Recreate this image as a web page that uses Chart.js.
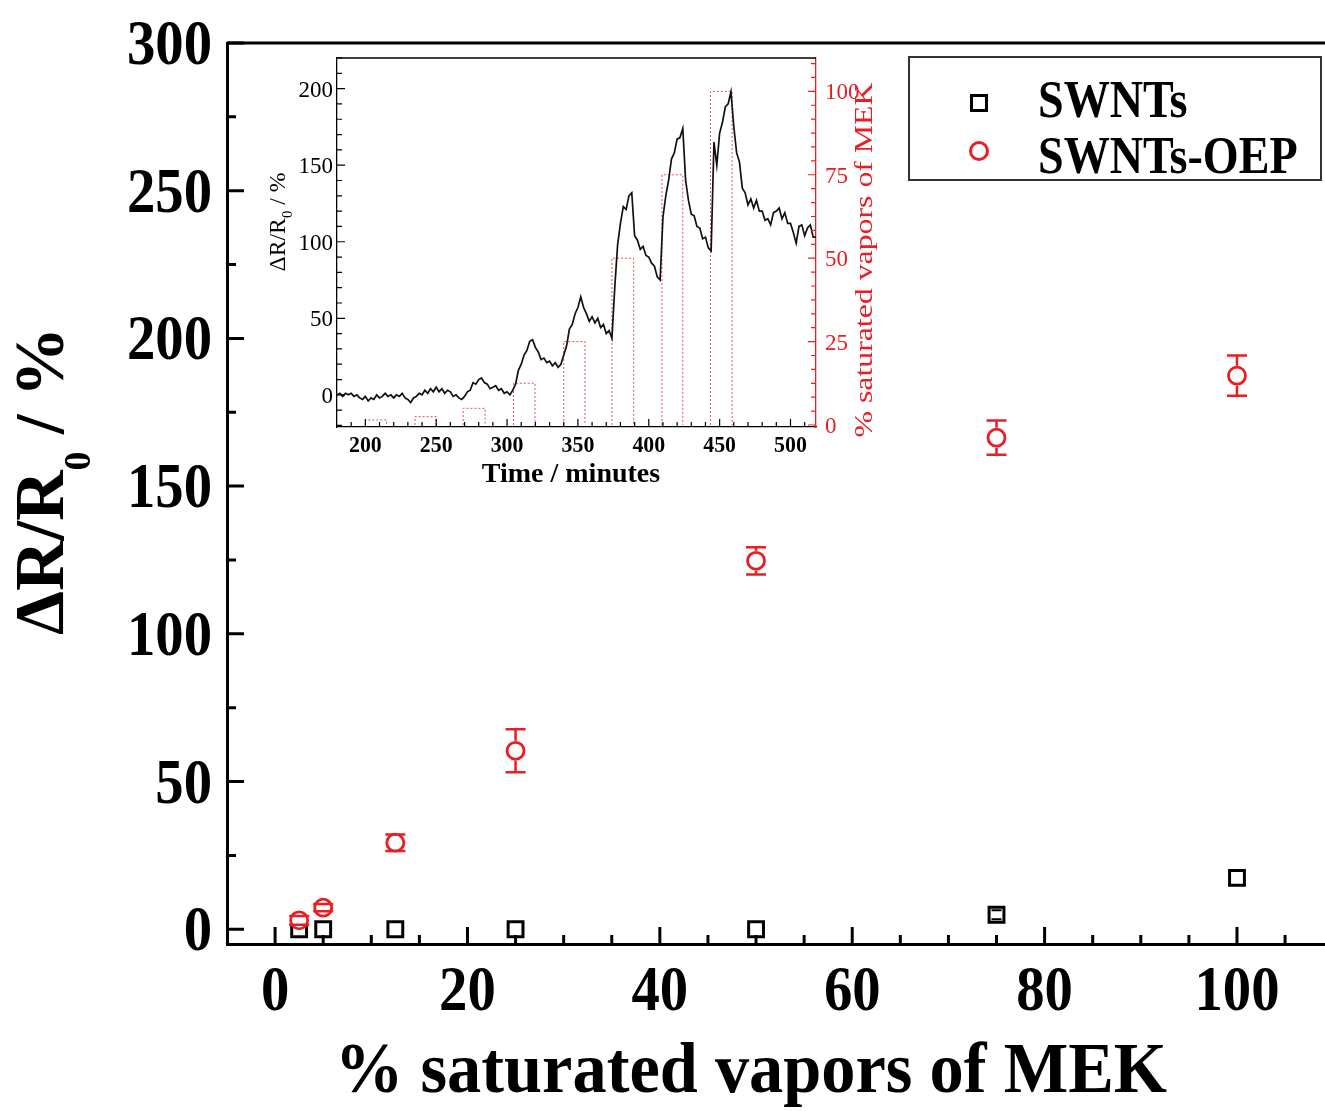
<!DOCTYPE html>
<html>
<head>
<meta charset="utf-8">
<script src="https://cdn.jsdelivr.net/npm/chart.js@4.4.1/dist/chart.umd.min.js"></script>
<style>
body{margin:0;background:#fff}
#wrap{position:relative;width:1325px;height:1111px;overflow:hidden}
#main{position:absolute;left:0;top:0}
#inset{position:absolute;left:250px;top:40px}
</style>
</head>
<body>
<div id="wrap">
<canvas id="main" width="1325" height="1111"></canvas>
<canvas id="inset" width="640" height="470"></canvas>
</div>
<script>
// main plot: response vs % saturated vapour
let vapor = [2.5, 5, 12.5, 25, 50, 75, 100]
let swnt = [0, 0, 0, 0, 0, 4.9, 17.4]
let swntErr = [0, 0, 0, 0, 0, 1.5, 0]
let oep = [3, 7.3, 29.3, 60.4, 124.7, 166.4, 187.4]
let oepErr = [1.5, 1.2, 2.8, 7.3, 4.6, 5.8, 6.8]
let mainXLabels = [0, 20, 40, 60, 80, 100]
let mainYLabels = [0, 50, 100, 150, 200, 250, 300]

// inset: resistance trace over time
let traceTime = [
	180,182,184,186,188,190,192,194,196,198,
	200,202,204,206,208,210,212,214,216,218,
	220,222,224,226,228,230,232,234,236,238,
	240,242,244,246,248,250,252,254,256,258,
	260,262,264,266,268,270,272,274,276,278,
	280,282,284,286,288,290,292,294,296,298,
	300,302,304,306,308,310,312,314,316,318,
	320,322,324,326,328,330,332,334,336,338,
	340,342,344,346,348,350,352,354,356,358,
	360,362,364,366,368,370,372,374,376,378,
	380,382,384,386,388,390,392,394,396,398,
	400,402,404,406,408,410,412,414,416,418,
	420,422,424,426,428,430,432,434,436,438,
	440,442,444,446,448,450,452,454,456,458,
	460,462,464,466,468,470,472,474,476,478,
	480,482,484,486,488,490,492,494,496,498,
	500,502,504,506,508,510,512,514,516,518]
let traceDR = [
	0,1,-1,1,0,1,-1,0,-2,-3,
	-1,-4,-2,-3,0,-2,-1,1,-1,0,
	-2,0,-1,1,-2,-3,-5,-2,-1,1,
	0,3,1,4,2,5,2,4,1,3,
	2,-1,0,-2,-3,-1,2,3,8,7,
	10,11,8,7,4,5,6,3,4,1,
	2,0,3,7,16,20,26,29,35,36,
	31,28,23,24,21,22,19,21,18,20,
	26,32,43,46,53,57,64,57,53,48,
	51,47,50,44,46,40,42,37,70,98,
	112,123,121,130,132,104,101,95,97,91,
	90,86,84,77,75,116,130,140,154,158,
	167,168,174,140,127,118,117,110,109,102,
	103,96,94,165,150,171,178,188,190,198,
	175,158,152,135,132,124,128,122,127,120,
	120,114,115,111,119,120,122,115,119,112,
	112,106,99,110,111,104,109,111,103,103]
let pulseStart = [200, 235, 269, 304.5, 340, 374, 409.3, 443.5]
let pulseEnd = [215, 250, 284.5, 319.7, 355, 389.3, 424, 458.8]
let pulseLevel = [1.5, 2.5, 5, 12.5, 25, 50, 75, 100]
let insetXLabels = [200, 250, 300, 350, 400, 450, 500]
let insetYLabels = [0, 50, 100, 150, 200]
let insetY2Labels = [0, 25, 50, 75, 100]

var mekchart = mekchart||{}
mekchart = (()=>{
	const red = 'rgb(232,30,36)'
	const serif = '"Liberation Serif","Times New Roman",serif'

let init = ()=>{
	drawMain()
	drawInset()
}
let isOn = (list, v)=> list.some(m => Math.abs(m - v) < 1e-6)

let put = (ctx, s, x, y, font, color, align, sx, fitW)=>{
	ctx.save()
	ctx.font = font
	ctx.fillStyle = color
	ctx.textAlign = 'left'
	ctx.textBaseline = 'alphabetic'
	let w0 = ctx.measureText(s).width
	if(fitW){ sx = fitW / w0 }
	let w = w0 * sx
	let x0 = align==='center' ? x - w/2 : (align==='right' ? x - w : x)
	ctx.translate(x0, y)
	ctx.scale(sx, 1)
	ctx.fillText(s, 0, 0)
	ctx.restore()
}
// rotated (bottom-to-top) title made of pieces, for the R0 subscript
let upTitle = (ctx, parts, x, y, color, len)=>{
	ctx.save()
	ctx.fillStyle = color
	ctx.textBaseline = 'alphabetic'
	let ws = parts.map(p => { ctx.font = p.font; return ctx.measureText(p.s).width })
	let total = ws.reduce((a,b)=>a+b, 0)
	ctx.translate(x, y)
	ctx.rotate(-Math.PI/2)
	ctx.scale(len ? len/total : 1, 1)
	let u = -total/2
	parts.forEach((p,i)=>{
		ctx.font = p.font
		ctx.fillText(p.s, u, p.dy||0)
		u += ws[i]
	})
	ctx.restore()
}
let inTicks = (ctx, scale, area, side, major, big, small, color, lw)=>{
	ctx.save()
	ctx.strokeStyle = color
	ctx.lineWidth = lw
	ctx.beginPath()
	scale.ticks.forEach(t=>{
		if(t.value < scale.min || t.value > scale.max) return
		let p = scale.getPixelForValue(t.value)
		let n = isOn(major, t.value) ? big : small
		if(side==='bottom'){
			if(p < area.left + 2 || p > area.right - 2) return
			ctx.moveTo(p, area.bottom); ctx.lineTo(p, area.bottom - n)
		}else if(side==='left'){
			ctx.moveTo(area.left, p); ctx.lineTo(area.left + n, p)
		}else{
			ctx.moveTo(area.right, p); ctx.lineTo(area.right - n, p)
		}
	})
	ctx.stroke()
	ctx.restore()
}
let errBars = (ctx, xs, ys, es, xs_, ys_, gap, cap, color, lw)=>{
	ctx.save()
	ctx.strokeStyle = color
	ctx.lineWidth = lw
	ctx.beginPath()
	xs.forEach((v,i)=>{
		if(!es[i]) return
		let px = xs_.getPixelForValue(v)
		let py = ys_.getPixelForValue(ys[i])
		let top = ys_.getPixelForValue(ys[i] + es[i])
		let bot = ys_.getPixelForValue(ys[i] - es[i])
		ctx.moveTo(px - cap, top); ctx.lineTo(px + cap, top)
		ctx.moveTo(px - cap, bot); ctx.lineTo(px + cap, bot)
		if(py - top > gap){
			ctx.moveTo(px, top); ctx.lineTo(px, py - gap)
			ctx.moveTo(px, py + gap); ctx.lineTo(px, bot)
		}
	})
	ctx.stroke()
	ctx.restore()
}

let mainDecor = {
	id:'mainDecor',
	afterDatasetsDraw(c){
		let ctx = c.ctx, sx = c.scales.x, sy = c.scales.y
		errBars(ctx, vapor, swnt, swntErr, sx, sy, 8, 5, '#000', 2)
		errBars(ctx, vapor, oep, oepErr, sx, sy, 10, 10, red, 2.5)
	},
	afterDraw(c){
		let ctx = c.ctx, a = c.chartArea, sx = c.scales.x, sy = c.scales.y
		ctx.save()
		ctx.strokeStyle = '#000'
		ctx.lineWidth = 3
		ctx.beginPath()
		ctx.moveTo(a.left, a.top); ctx.lineTo(a.right, a.top)
		ctx.stroke()
		ctx.restore()
		inTicks(ctx, sx, a, 'bottom', mainXLabels, 17, 9, '#000', 3)
		inTicks(ctx, sy, a, 'left', mainYLabels, 17, 9, '#000', 3)
		mainXLabels.forEach(v=>{
			put(ctx, String(v), sx.getPixelForValue(v), 1010, 'bold 63px '+serif, '#000', 'center', 0.9)
		})
		mainYLabels.forEach(v=>{
			put(ctx, String(v), 212, sy.getPixelForValue(v) + 21, 'bold 63px '+serif, '#000', 'right', 0.9)
		})
		put(ctx, '% saturated vapors of MEK', 751, 1092, 'bold 71px '+serif, '#000', 'center', 1, 832)
		upTitle(ctx, [
			{s:'\u0394R/R', font:'bold 70px '+serif},
			{s:'0', font:'bold 38px '+serif, dy:27},
			{s:' / %', font:'bold 70px '+serif}
		], 63, 481, '#000', 308)
		// legend box
		ctx.save()
		ctx.strokeStyle = '#333'
		ctx.lineWidth = 2
		ctx.fillStyle = '#fff'
		ctx.fillRect(909, 57, 412, 123)
		ctx.strokeRect(909, 57, 412, 123)
		let ds = c.data.datasets
		ctx.lineWidth = 3
		ctx.strokeStyle = ds[0].borderColor
		ctx.strokeRect(979 - 7.5, 103 - 7.5, 15, 15)
		ctx.strokeStyle = ds[1].borderColor
		ctx.beginPath()
		ctx.arc(979, 151, 8.5, 0, Math.PI*2)
		ctx.stroke()
		ctx.restore()
		put(ctx, ds[0].label, 1038, 117, 'bold 53px '+serif, '#000', 'left', 0.87)
		put(ctx, ds[1].label, 1038, 173, 'bold 53px '+serif, '#000', 'left', 0.87)
	}
}

let drawMain = ()=>{
	new Chart(document.getElementById('main'), {
		type:'scatter',
		data:{datasets:[
			{label:'SWNTs', data:vapor.map((x,i)=>({x:x, y:swnt[i]})),
			 pointStyle:'rect', pointRadius:10.5, borderColor:'#000', backgroundColor:'#fff', borderWidth:3, order:2},
			{label:'SWNTs-OEP', data:vapor.map((x,i)=>({x:x, y:oep[i]})),
			 pointStyle:'circle', pointRadius:8.5, borderColor:red, backgroundColor:'#fff', borderWidth:2.8, order:1}
		]},
		options:{
			responsive:false, animation:false, devicePixelRatio:1,
			layout:{autoPadding:false, padding:{top:43, left:0, right:0, bottom:0}},
			plugins:{legend:{display:false}, tooltip:{enabled:false}},
			scales:{
				x:{type:'linear', min:-5, max:109.15,
				   ticks:{stepSize:5, display:false, includeBounds:false},
				   grid:{display:false}, border:{display:true, color:'#000', width:3},
				   afterFit:s=>{ s.height = 167; s.paddingLeft = 0; s.paddingRight = 0 }},
				y:{type:'linear', min:-5, max:300,
				   ticks:{stepSize:25, display:false, includeBounds:false},
				   grid:{display:false}, border:{display:true, color:'#000', width:3},
				   afterFit:s=>{ s.width = 227; s.paddingTop = 0; s.paddingBottom = 0 }}
			}
		},
		plugins:[mainDecor]
	})
}

let insetDecor = {
	id:'insetDecor',
	afterDraw(c){
		let ctx = c.ctx, a = c.chartArea, sx = c.scales.x, sy = c.scales.y, s2 = c.scales.y2
		ctx.save()
		ctx.strokeStyle = '#000'
		ctx.lineWidth = 1.3
		ctx.beginPath()
		ctx.moveTo(a.left, a.top); ctx.lineTo(a.right, a.top)
		ctx.stroke()
		ctx.restore()
		inTicks(ctx, sx, a, 'bottom', insetXLabels, 8, 5, '#000', 1.2)
		inTicks(ctx, sy, a, 'left', insetYLabels, 8, 5, '#000', 1.2)
		inTicks(ctx, s2, a, 'right', insetY2Labels, 8, 5, red, 1.2)
		insetXLabels.forEach(v=>{
			put(ctx, String(v), sx.getPixelForValue(v), 412, 'bold 23px '+serif, '#000', 'center', 0.95)
		})
		insetYLabels.forEach(v=>{
			put(ctx, String(v), 83, sy.getPixelForValue(v) + 8, '23px '+serif, '#000', 'right', 1)
		})
		insetY2Labels.forEach(v=>{
			put(ctx, String(v), 575, s2.getPixelForValue(v) + 8, '23px '+serif, red, 'left', 1)
		})
		put(ctx, 'Time / minutes', 321, 442, 'bold 28px '+serif, '#000', 'center', 1)
		upTitle(ctx, [
			{s:'\u0394R/R', font:'24px '+serif},
			{s:'0', font:'15px '+serif, dy:7},
			{s:' / %', font:'24px '+serif}
		], 35, 182, '#000', 99)
		upTitle(ctx, [{s:'% saturated vapors of MEK', font:'26px '+serif}], 622, 220, red, 355)
	}
}

let drawInset = ()=>{
	let pulsePts = []
	pulseStart.forEach((t0,i)=>{
		pulsePts.push({x:t0, y:0}, {x:t0, y:pulseLevel[i]}, {x:pulseEnd[i], y:pulseLevel[i]},
			{x:pulseEnd[i], y:0}, {x:pulseEnd[i], y:null})
	})
	new Chart(document.getElementById('inset'), {
		type:'line',
		data:{datasets:[
			{data:traceTime.map((t,i)=>({x:t, y:traceDR[i]})), borderColor:'#111', borderWidth:1.7,
			 pointRadius:0, tension:0, yAxisID:'y'},
			{data:pulsePts, borderColor:'rgba(232,30,36,0.8)', borderWidth:1, borderDash:[2,2],
			 pointRadius:0, tension:0, spanGaps:false, yAxisID:'y2'}
		]},
		options:{
			responsive:false, animation:false, devicePixelRatio:1,
			layout:{autoPadding:false, padding:{top:18, left:0, right:0, bottom:0}},
			plugins:{legend:{display:false}, tooltip:{enabled:false}},
			scales:{
				x:{type:'linear', min:180, max:518,
				   ticks:{stepSize:10, display:false, includeBounds:false},
				   grid:{display:false}, border:{display:true, color:'#000', width:1.3},
				   afterFit:s=>{ s.height = 83; s.paddingLeft = 0; s.paddingRight = 0 }},
				y:{type:'linear', position:'left', min:-21, max:220,
				   ticks:{stepSize:10, display:false, includeBounds:false},
				   grid:{display:false}, border:{display:true, color:'#000', width:1.3},
				   afterFit:s=>{ s.width = 87; s.paddingTop = 0; s.paddingBottom = 0 }},
				y2:{type:'linear', position:'right', min:-0.6, max:110,
				   ticks:{stepSize:25/6, display:false, includeBounds:false},
				   grid:{display:false}, border:{display:true, color:red, width:1.3},
				   afterFit:s=>{ s.width = 74; s.paddingTop = 0; s.paddingBottom = 0 }}
			}
		},
		plugins:[insetDecor]
	})
}
return {init:init}
})();
mekchart.init()
</script>
</body>
</html>
